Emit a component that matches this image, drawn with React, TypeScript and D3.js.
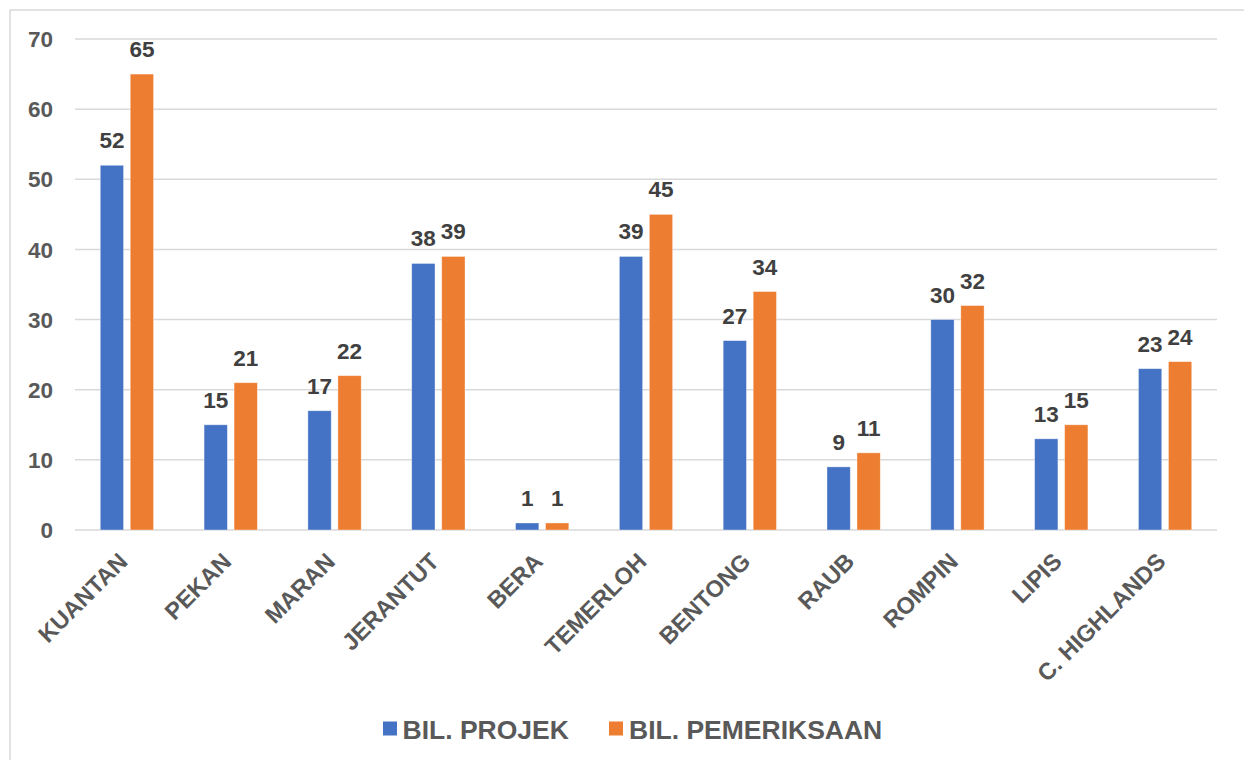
import React from "react";
import * as d3 from "d3";

const categories = ["KUANTAN", "PEKAN", "MARAN", "JERANTUT", "BERA", "TEMERLOH", "BENTONG", "RAUB", "ROMPIN", "LIPIS", "C. HIGHLANDS"];
const projek = [52, 15, 17, 38, 1, 39, 27, 9, 30, 13, 23];
const pemeriksaan = [65, 21, 22, 39, 1, 45, 34, 11, 32, 15, 24];
const seriesNames = ["BIL. PROJEK", "BIL. PEMERIKSAAN"];
const yTicks = [0, 10, 20, 30, 40, 50, 60, 70];

const W = 1244;
const H = 760;
const left = 75;
const right = 1217;
const top = 39;
const bottom = 530;
const colors = ["#4472C4", "#ED7D31"];
const FONT = "'Liberation Sans', Arial, sans-serif";

export default function App() {
  const x = d3.scaleBand<string>().domain(categories).range([left, right]).paddingInner(0).paddingOuter(0);
  const y = d3.scaleLinear().domain([0, 70]).range([bottom, top]);
  const barW = 23.3;
  const gap = 6.7;
  const series = [projek, pemeriksaan];

  return (
    <svg width={W} height={H} style={{ position: "absolute", left: 0, top: 0, background: "#fff" }} fontFamily={FONT}>
      <rect x={0} y={0} width={W} height={H} fill="#fff" />
      <rect x={10} y={10} width={W + 20} height={H + 20} fill="none" stroke="#d9d9d9" strokeWidth={1.5} />
      {yTicks.map((t) => (
        <g key={t}>
          <line x1={left} x2={right} y1={y(t)} y2={y(t)} stroke="#d9d9d9" strokeWidth={1.5} />
          <text x={53} y={y(t)} dy="0.36em" textAnchor="end" fontSize={22.5} fontWeight="bold" fill="#595959">
            {t}
          </text>
        </g>
      ))}
      {categories.map((c, i) => {
        const cx = (x(c) as number) + x.bandwidth() / 2;
        return (
          <g key={c}>
            {series.map((s, si) => {
              const bx = si === 0 ? cx - gap / 2 - barW : cx + gap / 2;
              const v = s[i];
              return (
                <g key={si}>
                  <rect x={bx} y={y(v)} width={barW} height={y(0) - y(v)} fill={colors[si]} stroke="#fff" strokeOpacity={0.5} strokeWidth={0.75} />
                  <text x={bx + barW / 2} y={y(v) - 17} textAnchor="middle" fontSize={22.5} fontWeight="bold" fill="#404040">
                    {v}
                  </text>
                </g>
              );
            })}
            <text
              transform={`translate(${cx + 2},${bottom + 33}) rotate(-45)`}
              textAnchor="end"
              fontSize={23.5}
              fontWeight="bold"
              fill="#595959"
            >
              {c}
            </text>
          </g>
        );
      })}
      <g>
        <rect x={383} y={721.5} width={14} height={14} fill={colors[0]} />
        <text x={402.5} y={738.5} fontSize={26.5} fontWeight="bold" fill="#595959">{seriesNames[0]}</text>
        <rect x={609} y={721.5} width={14} height={14} fill={colors[1]} />
        <text x={629} y={738.5} fontSize={26.5} fontWeight="bold" fill="#595959">{seriesNames[1]}</text>
      </g>
    </svg>
  );
}
